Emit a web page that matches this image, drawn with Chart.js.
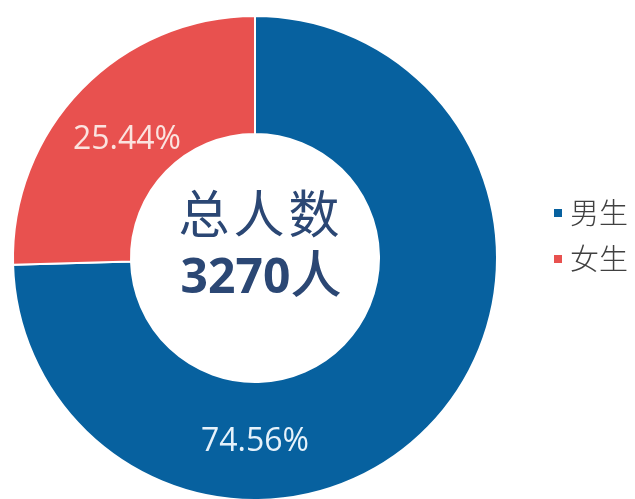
<!DOCTYPE html>
<html>
<head>
<meta charset="utf-8">
<script src="https://cdn.jsdelivr.net/npm/chart.js@4/dist/chart.umd.min.js"></script>
<style>
  html, body { margin: 0; padding: 0; background: #fff; }
  #wrap { position: relative; width: 635px; height: 499px; overflow: hidden; }
  #chart { position: absolute; left: 0; top: 0; }
  #center { position: absolute; left: 155px; width: 212px; top: 180px; text-align: center; color: #2b4774;
            font-family: "Noto Sans CJK SC", sans-serif; pointer-events: none; }
  #center .t1 { font-size: 51px; line-height: 62px; letter-spacing: 4px; font-weight: 400; }
  #center .t2 { font-size: 48px; line-height: 58px; font-weight: 700; font-family: "Open Sans", "Noto Sans CJK SC", sans-serif; }
  #center .t2 span { font-family: "Noto Sans CJK SC", sans-serif; font-weight: 500; font-size: 51px; }
  #legend { position: absolute; left: 554px; top: 191px; font-family: "Noto Sans CJK SC", sans-serif;
            font-size: 29px; font-weight: 300; color: #404040; }
  #legend div { height: 46px; line-height: 40px; white-space: nowrap; }
  #legend i { display: inline-block; width: 8px; height: 8px; margin-right: 8px; vertical-align: middle; position: relative; top: -3px; }
</style>
</head>
<body>
<div id="wrap">
  <canvas id="chart" width="635" height="499"></canvas>
  <div id="center"><div class="t1">总人数</div><div class="t2"></div></div>
  <div id="legend"></div>
</div>
<script>
// 数据
const labels = ['男生', '女生'];
const counts = [2438, 832];
const colors = ['#07619f', '#e8514f'];
const textColors = ['#e6f2fb', '#fbe3df'];
// 百分比标签所在角度(从正上方顺时针, 度)
const labelAngles = [180, 313];

const total = counts.reduce((a, b) => a + b, 0);
document.querySelector('#center .t2').innerHTML = total + '<span>人</span>';

const legend = document.getElementById('legend');
labels.forEach((name, i) => {
    const row = document.createElement('div');
    row.innerHTML = '<i style="background:' + colors[i] + '"></i>' + name;
    legend.appendChild(row);
});

// 百分比标签
const pctLabels = {
    id: 'pctLabels',
    afterDatasetsDraw(chart) {
        const ctx = chart.ctx;
        const meta = chart.getDatasetMeta(0);
        ctx.save();
        ctx.font = '32px "Open Sans", sans-serif';
        ctx.textAlign = 'center';
        ctx.textBaseline = 'middle';
        meta.data.forEach((arc, i) => {
            const p = arc.getProps(['x', 'y', 'innerRadius', 'outerRadius']);
            const r = (p.innerRadius + p.outerRadius) / 2 - (i === 1 ? 8 : 0);
            const a = labelAngles[i] * Math.PI / 180;
            const x = p.x + r * Math.sin(a);
            const y = p.y - r * Math.cos(a);
            const pct = (counts[i] / total * 100).toFixed(2) + '%';
            ctx.fillStyle = textColors[i];
            ctx.fillText(pct, x, y + 1);
        });
        ctx.restore();
    }
};

const ctx = document.getElementById('chart').getContext('2d');
new Chart(ctx, {
    type: 'doughnut',
    data: {
        labels: labels,
        datasets: [{
            data: counts,
            backgroundColor: colors,
            borderColor: '#ffffff',
            borderWidth: 2
        }]
    },
    options: {
        responsive: false,
        animation: false,
        radius: 242,
        cutout: 123,
        layout: { padding: { left: 0, right: 125, top: 17, bottom: 0 } },
        plugins: {
            legend: { display: false },
            tooltip: { enabled: false }
        }
    },
    plugins: [pctLabels]
});
</script>
</body>
</html>
